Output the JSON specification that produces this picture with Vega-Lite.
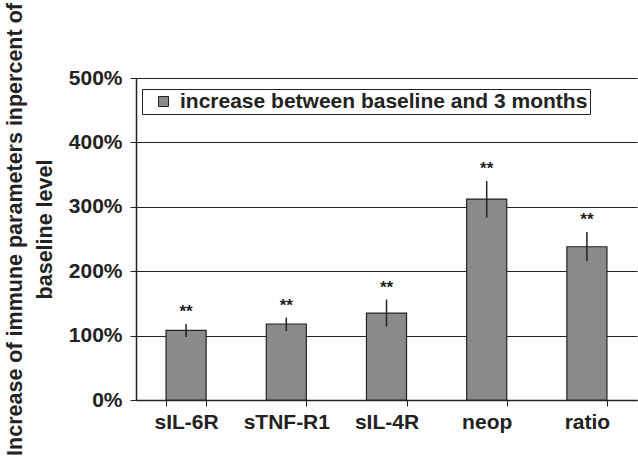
{
  "$schema": "https://vega.github.io/schema/vega-lite/v6.json",
  "autosize": "none",
  "width": 501,
  "height": 322,
  "padding": {"left": 136, "top": 78, "right": 1, "bottom": 61},
  "background": "white",
  "config": {
    "font": "Liberation Sans",
    "view": {"stroke": null},
    "axis": {"labelFont": "Liberation Sans", "titleFont": "Liberation Sans", "labelColor": "#222", "titleColor": "#222"}
  },
  "data": {
    "values": [
      {"param": "sIL-6R", "value": 108, "lo": 98, "hi": 118, "series": "increase between baseline and 3 months", "sig": "**"},
      {"param": "sTNF-R1", "value": 118, "lo": 107, "hi": 128, "series": "increase between baseline and 3 months", "sig": "**"},
      {"param": "sIL-4R", "value": 135, "lo": 114, "hi": 156, "series": "increase between baseline and 3 months", "sig": "**"},
      {"param": "neop", "value": 312, "lo": 283, "hi": 340, "series": "increase between baseline and 3 months", "sig": "**"},
      {"param": "ratio", "value": 238, "lo": 216, "hi": 261, "series": "increase between baseline and 3 months", "sig": "**"}
    ]
  },
  "encoding": {
    "x": {
      "field": "param", "type": "nominal", "sort": null,
      "scale": {"paddingInner": 0.6, "paddingOuter": 0.3},
      "axis": {
        "title": null, "labelAngle": 0, "labelFontSize": 21, "labelFontWeight": "bold",
        "labelPadding": 5, "tickBand": "extent", "tickSize": 6, "tickColor": "#222",
        "domainColor": "#222", "domainWidth": 1.5
      }
    }
  },
  "layer": [
    {
      "mark": {"type": "bar", "stroke": "#222", "strokeWidth": 1.2},
      "encoding": {
        "y": {
          "field": "value", "type": "quantitative",
          "scale": {"domain": [0, 500]},
          "axis": {
            "values": [0, 100, 200, 300, 400, 500],
            "labelExpr": "datum.value + '%'",
            "labelFontSize": 21, "labelFontWeight": "bold", "labelPadding": 8,
            "tickSize": 6, "tickColor": "#222", "domainColor": "#222", "domainWidth": 1.5,
            "grid": true, "gridColor": "#222", "gridWidth": 1.2,
            "title": ["Increase of immune parameters inpercent of", "baseline level"],
            "titleFontSize": 21.5, "titleFontWeight": "bold", "titleLineHeight": 30,
            "titleX": -110, "titleY": 151, "titleBaseline": "bottom", "titleAlign": "center", "titleAngle": -90
          }
        },
        "fill": {
          "field": "series", "type": "nominal",
          "scale": {"range": ["#8a8a8a"]},
          "legend": {
            "title": null, "orient": "none", "legendX": 6, "legendY": 11,
            "labelFontSize": 21, "labelFontWeight": "bold", "labelColor": "#222",
            "symbolType": "square", "symbolSize": 100, "symbolStrokeColor": "#222", "symbolStrokeWidth": 1,
            "strokeColor": "#222", "fillColor": "white", "padding": 2,
            "labelOffset": 6, "symbolOffset": 9, "labelLimit": 600
          }
        }
      }
    },
    {
      "mark": {"type": "rule", "color": "#222", "strokeWidth": 1.5},
      "encoding": {
        "y": {"field": "lo", "type": "quantitative"},
        "y2": {"field": "hi"}
      }
    },
    {
      "mark": {"type": "text", "fontSize": 17, "fontWeight": "bold", "color": "#222", "dy": -3, "baseline": "bottom"},
      "encoding": {
        "y": {"field": "hi", "type": "quantitative"},
        "text": {"field": "sig"}
      }
    }
  ]
}
